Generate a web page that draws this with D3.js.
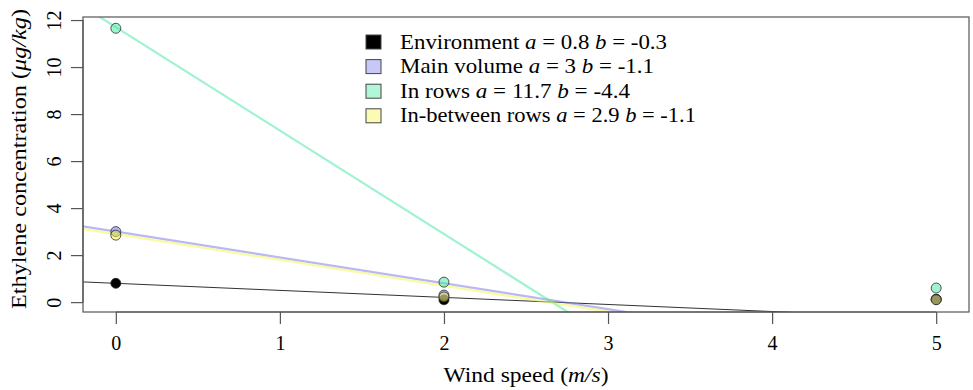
<!DOCTYPE html>
<html><head><meta charset="utf-8">
<script src="https://cdn.jsdelivr.net/npm/d3@7"></script>
<style>
body{margin:0;background:#fff;}
svg{display:block;font-family:"Liberation Serif","DejaVu Serif",serif;}
</style></head>
<body><svg id="c" width="973" height="390"></svg>
<script>
const windSpeed = [0, 2, 5];
const seriesNames = ["Environment", "Main volume", "In rows", "In-between rows"];
const envValues = [0.8, 0.1, 0.12];
const mainValues = [3.0, 0.3, 0.12];
const rowsValues = [11.65, 0.85, 0.6];
const betweenValues = [2.85, 0.22, 0.1];
const fitA = [0.8, 3, 11.7, 2.9];
const fitB = [-0.3, -1.1, -4.4, -1.1];
const xTicks = [0, 1, 2, 3, 4, 5];
const yTicks = [0, 2, 4, 6, 8, 10, 12];
const colors = ["#000000", "#7272ee", "#3fe8a0", "#f6f640"];
const legendWidths = [267, 254, 230, 296];

const allValues = [envValues, mainValues, rowsValues, betweenValues];
const svg = d3.select("#c");
const L = 83, R = 969, T = 17, B = 312;
const x = d3.scaleLinear().domain([-0.2, 5.2]).range([L, R]);
const y = d3.scaleLinear().domain([-0.42, 12.13]).range([B, T]);

svg.append("defs").append("clipPath").attr("id", "clip")
  .append("rect").attr("x", L).attr("y", T).attr("width", R - L).attr("height", B - T);

// fit lines
const lg = svg.append("g").attr("clip-path", "url(#clip)");
fitA.forEach((a, i) => {
  const xs = [-0.2, 5.2];
  lg.append("line")
    .attr("x1", x(xs[0])).attr("y1", y(a + fitB[i] * xs[0]))
    .attr("x2", x(xs[1])).attr("y2", y(a + fitB[i] * xs[1]))
    .attr("stroke", i === 0 ? "#333" : colors[i])
    .attr("stroke-width", i === 0 ? 1 : 2.2)
    .attr("stroke-opacity", i === 0 ? 1 : 0.5);
});

// points
allValues.forEach((vals, i) => {
  svg.append("g").selectAll("circle").data(vals).join("circle")
    .attr("cx", (d, j) => x(windSpeed[j])).attr("cy", d => y(d))
    .attr("r", 5)
    .attr("fill", colors[i]).attr("fill-opacity", i === 0 ? 1 : 0.5)
    .attr("stroke", "#222").attr("stroke-opacity", 0.75).attr("stroke-width", 1);
});

// box
svg.append("rect").attr("x", L).attr("y", T).attr("width", R - L).attr("height", B - T)
  .attr("fill", "none").attr("stroke", "#555").attr("stroke-width", 1.2);

// axes
const xa = svg.append("g").attr("transform", `translate(0,${B})`)
  .call(d3.axisBottom(x).tickValues(xTicks).tickSize(12).tickSizeOuter(0).tickFormat(d3.format("d")));
xa.select(".domain").attr("d", `M${x(0)},0H${x(5)}`).attr("stroke", "#555").attr("stroke-width", 1.2);
xa.selectAll(".tick line").attr("stroke", "#555").attr("stroke-width", 1.2);
xa.selectAll(".tick text").attr("font-size", 20).attr("font-family", "Liberation Serif").attr("fill", "#000").attr("dy", "1.15em");

const ya = svg.append("g").attr("transform", `translate(${L},0)`)
  .call(d3.axisLeft(y).tickValues(yTicks).tickSize(12).tickSizeOuter(0));
ya.select(".domain").attr("d", `M0,${y(0)}V${y(12)}`).attr("stroke", "#555").attr("stroke-width", 1.2);
ya.selectAll(".tick line").attr("stroke", "#555").attr("stroke-width", 1.2);
ya.selectAll(".tick text").remove();
ya.selectAll(".tick").append("text")
  .attr("transform", "translate(-22,0) rotate(-90)")
  .attr("text-anchor", "middle").attr("font-size", 20).attr("fill", "#000")
  .attr("font-family", "Liberation Serif")
  .text(d => d);

// axis titles
const xt = svg.append("text").attr("x", x(2.5)).attr("y", 382).attr("text-anchor", "middle").attr("font-size", 21)
  .attr("textLength", 165).attr("lengthAdjust", "spacingAndGlyphs");
xt.append("tspan").text("Wind speed (");
xt.append("tspan").attr("font-style", "italic").text("m/s");
xt.append("tspan").text(")");

const yt = svg.append("text").attr("transform", `translate(26,${159}) rotate(-90)`)
  .attr("text-anchor", "middle").attr("font-size", 21)
  .attr("textLength", 300).attr("lengthAdjust", "spacingAndGlyphs");
yt.append("tspan").text("Ethylene concentration (");
yt.append("tspan").attr("font-style", "italic").text("μg/kg");
yt.append("tspan").text(")");

// legend
const leg = svg.append("g");
seriesNames.forEach((n, i) => {
  const cy = 42 + i * 24.6;
  leg.append("rect").attr("x", 366).attr("y", cy - 7).attr("width", 15).attr("height", 14)
    .attr("fill", colors[i]).attr("fill-opacity", i === 0 ? 1 : 0.4)
    .attr("stroke", "#444").attr("stroke-width", 1);
  const t = leg.append("text").attr("x", 400).attr("y", cy + 6.5).attr("font-size", 21)
    .attr("textLength", legendWidths[i]).attr("lengthAdjust", "spacingAndGlyphs");
  t.append("tspan").text(n + " ");
  t.append("tspan").attr("font-style", "italic").text("a");
  t.append("tspan").text(" = " + fitA[i] + " ");
  t.append("tspan").attr("font-style", "italic").text("b");
  t.append("tspan").text(" = " + fitB[i]);
});
</script></body></html>
